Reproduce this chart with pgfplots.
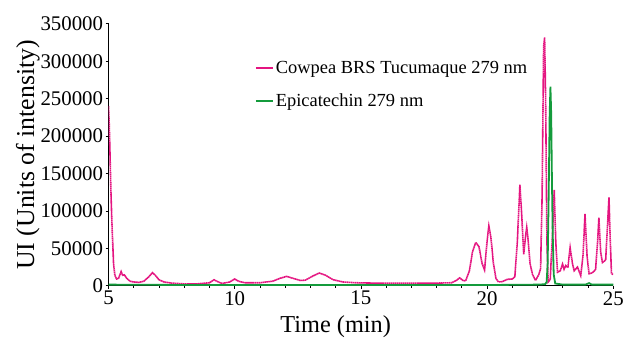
\documentclass[border=0pt]{standalone}
\usepackage{fontspec}
\setmainfont{Liberation Serif}
\usepackage{pgfplots}
\pgfplotsset{compat=1.18}
\definecolor{cpink}{RGB}{228,20,128}
\definecolor{cgreen}{RGB}{20,155,60}
\begin{document}
\begin{tikzpicture}
\begin{axis}[
  scale only axis,
  width=507bp, height=263bp,
  xmin=5, xmax=25, ymin=0, ymax=350000,
  axis lines=left,
  axis line style={-, line width=1.5bp, black},
  xtick={5,10,15,20,25},
  minor xtick={6,7,8,9,11,12,13,14,16,17,18,19,21,22,23,24},
  ytick={0,50000,100000,150000,200000,250000,300000,350000},
  scaled y ticks=false,
  /pgf/number format/assume math mode=true,
  yticklabel style={/pgf/number format/fixed, /pgf/number format/1000 sep={}, font=\fontsize{21}{23}\selectfont, xshift=1bp},
  xticklabel style={font=\fontsize{21}{23}\selectfont, yshift=1bp},
  tick align=outside,
  major tick length=3bp, minor tick length=2bp,
  tick style={black, line width=0.8bp},
  xlabel={Time (min)}, ylabel={UI (Units of intensity)},
  xlabel style={font=\fontsize{24.5}{26}\selectfont, at={(axis description cs:0.45,-0.156)}, anchor=center},
  ylabel style={font=\fontsize{26}{28}\selectfont, at={(axis description cs:-0.16,0.5)}, anchor=center},
  legend style={at={(0.29,0.865)}, anchor=north west, draw=none, fill=none,
    font=\fontsize{18.6}{20}\selectfont, row sep=15bp, inner sep=0pt},
  legend cell align=left,
  legend image code/.code={\draw[#1] (0bp,0bp) -- (17bp,0bp);},
]
\addplot[cpink, line width=1.6bp, dash pattern=on 1.6bp off 0.4bp] coordinates {
(5.00,240000)(5.03,215000)(5.06,175000)(5.10,120000)(5.15,70000)(5.20,30000)(5.25,14000)(5.32,9000)(5.40,10000)(5.50,19000)(5.56,14000)(5.63,14500)(5.72,10000)(5.85,6000)(6.0,5000)(6.2,4500)(6.4,6000)(6.6,12000)(6.74,17500)(6.85,14000)(7.0,8000)(7.2,5000)(7.5,3500)(8.0,2500)(8.5,2500)(9.0,4000)(9.18,8000)(9.35,5000)(9.5,3000)(9.8,5000)(10.0,9000)(10.15,6000)(10.4,4000)(11.0,4000)(11.5,6000)(11.8,10000)(12.06,12500)(12.3,10000)(12.6,7000)(12.8,7500)(13.1,13000)(13.35,17000)(13.6,14000)(13.9,8000)(14.3,5000)(14.8,4000)(15.5,3500)(16,3500)(17,3500)(18,3500)(18.6,4000)(18.8,7500)(18.91,10500)(19.05,7000)(19.15,6500)(19.3,20000)(19.42,45000)(19.55,58000)(19.68,52000)(19.8,30000)(19.9,21000)(20.0,60000)(20.07,80000)(20.15,65000)(20.25,30000)(20.35,10000)(20.45,5000)(20.6,5500)(20.8,8500)(21.0,9000)(21.1,12000)(21.2,60000)(21.3,135000)(21.38,90000)(21.45,42000)(21.52,65000)(21.57,78000)(21.63,60000)(21.7,30000)(21.8,15000)(21.92,7000)(22.05,15000)(22.12,23000)(22.18,120000)(22.24,320000)(22.28,332000)(22.32,250000)(22.37,60000)(22.42,5000)(22.5,8000)(22.58,60000)(22.66,128000)(22.72,60000)(22.79,18000)(22.9,20000)(22.99,29000)(23.05,22000)(23.12,27000)(23.2,24000)(23.29,51000)(23.38,30000)(23.45,20000)(23.58,25000)(23.71,13500)(23.8,40000)(23.88,96000)(23.96,40000)(24.04,16000)(24.15,17000)(24.23,19000)(24.3,22000)(24.38,60000)(24.43,91000)(24.5,45000)(24.57,31000)(24.65,33000)(24.70,35000)(24.77,80000)(24.83,118000)(24.88,60000)(24.93,16000)(25.0,15000)
};
\addlegendentry{Cowpea BRS Tucumaque 279 nm}
\addplot[cgreen, line width=1.8bp] coordinates {
(5,1500)(8,1000)(12,800)(16,1000)(20,1000)(21,1200)(22,1500)(22.3,2000)(22.36,5000)(22.40,30000)(22.44,120000)(22.48,230000)(22.51,266000)(22.54,230000)(22.57,140000)(22.60,70000)(22.64,15000)(22.7,3000)(23,1500)(23.9,1500)(24.04,3500)(24.15,1500)(25,1500)
};
\addlegendentry{Epicatechin 279 nm}
\end{axis}
\path ([xshift=-109bp,yshift=-54bp]current axis.south west) rectangle ([xshift=11bp,yshift=24bp]current axis.north east);
\end{tikzpicture}
\end{document}
